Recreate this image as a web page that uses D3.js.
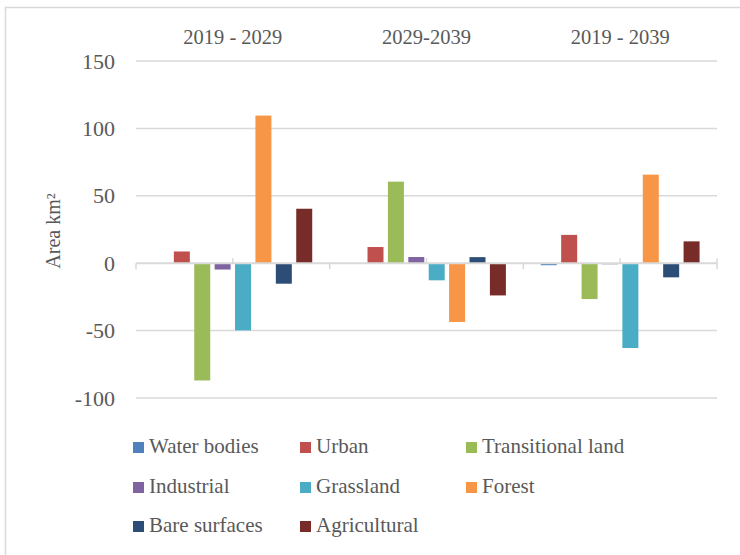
<!DOCTYPE html>
<html>
<head>
<meta charset="utf-8">
<script src="https://cdn.jsdelivr.net/npm/d3@7/dist/d3.min.js"></script>
<style>
  html, body { margin: 0; padding: 0; background: #fff; }
  svg { display: block; }
</style>
</head>
<body>
<svg id="chart" width="740" height="555" font-family="'Liberation Serif', 'DejaVu Serif', serif"></svg>
<script>
const periods = ["2019 - 2029", "2029-2039", "2019 - 2039"];
const seriesNames = ["Water bodies", "Urban", "Transitional land", "Industrial", "Grassland", "Forest", "Bare surfaces", "Agricultural"];
const seriesColors = ["#4F81BD", "#C0504D", "#9BBB59", "#8064A2", "#4BACC6", "#F79646", "#2C4D75", "#772C2A"];
// values per series, in the order of periods
const waterBodies   = [-0.5, -0.5, -1.5];
const urban         = [8.7, 12, 21];
const transitional  = [-87, 60.5, -26.6];
const industrial    = [-4.7, 4.6, -0.8];
const grassland     = [-49.8, -12.7, -62.9];
const forest        = [109.5, -43.6, 65.7];
const bareSurfaces  = [-15.2, 4.5, -10.5];
const agricultural  = [40.4, -23.9, 16.2];
const yTicks = [-100, -50, 0, 50, 100, 150];

const seriesValues = [waterBodies, urban, transitional, industrial, grassland, forest, bareSurfaces, agricultural];
const data = [];
periods.forEach((p, i) => seriesNames.forEach((s, j) => data.push({period: p, series: s, value: seriesValues[j][i], color: seriesColors[j]})));

const svg = d3.select("#chart");
const textColor = "#595959";
const plotLeft = 136, plotRight = 717, plotTop = 61, plotBottom = 398;

// outer frame
svg.append("rect").attr("x", 5.5).attr("y", 7.5).attr("width", 760).attr("height", 580)
  .attr("fill", "none").attr("stroke", "#d9d9d9").attr("stroke-width", 1.5);

const y = d3.scaleLinear().domain([-100, 150]).range([plotBottom, plotTop]);
const x0 = d3.scaleBand().domain(periods).range([plotLeft, plotRight]).padding(0);
const x1 = d3.scaleBand().domain(seriesNames).range([0, x0.bandwidth()]).paddingInner(0.216).paddingOuter(0.855);

// gridlines
svg.append("g").selectAll("line").data(yTicks.filter(t => t !== 0)).join("line")
  .attr("x1", plotLeft).attr("x2", plotRight)
  .attr("y1", d => y(d)).attr("y2", d => y(d))
  .attr("stroke", "#d9d9d9").attr("stroke-width", 1.5);

// y tick labels
svg.append("g").selectAll("text").data(yTicks).join("text")
  .attr("x", 115).attr("y", d => y(d) + 7.5)
  .attr("text-anchor", "end").attr("font-size", 22).attr("fill", textColor)
  .text(d => d);

// bars
svg.append("g").selectAll("rect").data(data).join("rect")
  .attr("x", d => x0(d.period) + x1(d.series))
  .attr("width", x1.bandwidth())
  .attr("y", d => y(Math.max(0, d.value)))
  .attr("height", d => Math.abs(y(d.value) - y(0)))
  .attr("fill", d => d.color);

// zero axis line
const z = y(0);
svg.append("line").attr("x1", plotLeft).attr("x2", plotRight).attr("y1", z).attr("y2", z)
  .attr("stroke", "#d9d9d9").attr("stroke-width", 2);
// category ticks
const bounds = periods.map(p => x0(p)).concat([plotRight]);
svg.append("g").selectAll("line").data(bounds).join("line")
  .attr("x1", d => d).attr("x2", d => d)
  .attr("y1", (d, i) => i === bounds.length - 1 ? z - 5 : z).attr("y2", z + 6)
  .attr("stroke", "#d9d9d9").attr("stroke-width", 1.5);
svg.append("g").selectAll("line").data(periods).join("line")
  .attr("x1", d => x0(d) + x0.bandwidth() / 2).attr("x2", d => x0(d) + x0.bandwidth() / 2)
  .attr("y1", z - 5).attr("y2", z)
  .attr("stroke", "#d9d9d9").attr("stroke-width", 1.5);

// period labels at top
svg.append("g").selectAll("text").data(periods).join("text")
  .attr("x", d => x0(d) + x0.bandwidth() / 2).attr("y", 44)
  .attr("text-anchor", "middle").attr("font-size", 20.5).attr("fill", textColor)
  .text(d => d);

// y-axis title
svg.append("text").attr("transform", "translate(60,231) rotate(-90)")
  .attr("text-anchor", "middle").attr("font-size", 20).attr("fill", textColor)
  .text("Area km²");

// legend
const colX = [133, 300, 466];
const rowY = [453, 493, 532];
const lg = svg.append("g").selectAll("g").data(seriesNames).join("g")
  .attr("transform", (d, i) => `translate(${colX[i % 3]},${rowY[Math.floor(i / 3)]})`);
lg.append("rect").attr("x", 0).attr("y", -11).attr("width", 11).attr("height", 11)
  .attr("fill", (d, i) => seriesColors[i]);
lg.append("text").attr("x", 16).attr("y", 0).attr("font-size", 21).attr("fill", textColor).text(d => d);
</script>
</body>
</html>
